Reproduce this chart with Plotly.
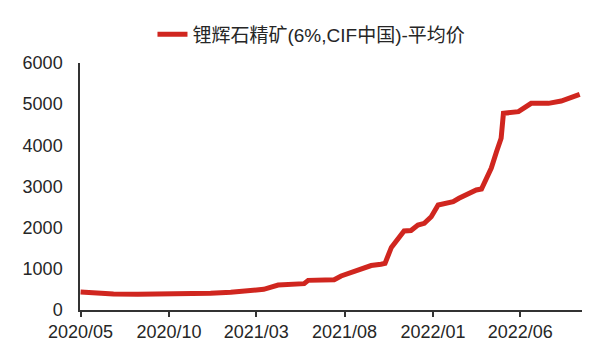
import plotly.graph_objects as go

dates = ["2020-05-01", "2020-05-04", "2020-06-05", "2020-06-27", "2020-08-08", "2020-10-27",
         "2020-12-12", "2021-01-16", "2021-02-16", "2021-03-14", "2021-04-08", "2021-04-30",
         "2021-05-23", "2021-05-30", "2021-07-14", "2021-07-26", "2021-08-12", "2021-08-24",
         "2021-09-02", "2021-09-16", "2021-10-03", "2021-10-10", "2021-10-21", "2021-11-02",
         "2021-11-12", "2021-11-24", "2021-12-06", "2021-12-17", "2021-12-29", "2022-01-10",
         "2022-01-24", "2022-02-05", "2022-02-15", "2022-03-03", "2022-03-17", "2022-03-26",
         "2022-04-03", "2022-04-12", "2022-04-21", "2022-04-29", "2022-05-03", "2022-05-29",
         "2022-06-20", "2022-07-20", "2022-08-11", "2022-08-29", "2022-09-12"]
prices = [440, 437, 421, 389, 381, 381,
          405, 429, 461, 502, 607, 625,
          640, 720, 735, 826, 915, 955,
          1012, 1080, 1110, 1134, 1520, 1741,
          1919, 1930, 2065, 2105, 2267, 2550,
          2591, 2631, 2713, 2834, 2915, 2940,
          3158, 3450, 3845, 4170, 4777, 4818,
          5020, 5020, 5077, 5157, 5238]

series_name = "锂辉石精矿(6%,CIF中国)-平均价"
tick_vals = ["2020-05-01", "2020-10-01", "2021-03-01", "2021-08-01", "2022-01-01", "2022-06-01"]
tick_text = ["2020/05", "2020/10", "2021/03", "2021/08", "2022/01", "2022/06"]
y_ticks = [0, 1000, 2000, 3000, 4000, 5000, 6000]

fig = go.Figure()
fig.add_trace(go.Scatter(x=dates, y=prices, mode="lines", name=series_name,
                         line=dict(color="#D0261F", width=5, shape="linear")))

font_family = "Liberation Sans, Arial, Noto Sans CJK SC, sans-serif"
fig.update_layout(
    width=599, height=363,
    margin=dict(l=80, r=17, t=63, b=53, autoexpand=False),
    paper_bgcolor="white", plot_bgcolor="white",
    font=dict(family=font_family, size=18, color="#262626"),
    showlegend=True,
    legend=dict(orientation="h", xref="container", yref="container",
                x=0.52, xanchor="center", y=0.905, yanchor="middle",
                font=dict(family="Liberation Sans, Noto Sans CJK SC, sans-serif", size=19, color="#262626"),
                bgcolor="rgba(0,0,0,0)"),
    xaxis=dict(type="date", range=["2020-04-30", "2022-09-16"],
               tickvals=tick_vals, ticktext=tick_text,
               showgrid=False, zeroline=False,
               showline=True, linecolor="#333333", linewidth=1.5,
               ticks="outside", ticklen=5, tickcolor="#333333", tickwidth=1.5),
    yaxis=dict(range=[0, 6000], tickvals=y_ticks,
               showgrid=False, zeroline=False,
               showline=True, linecolor="#333333", linewidth=1.5,
               ticks="", ticklabelstandoff=12),
)

fig.write_html("out.html")
